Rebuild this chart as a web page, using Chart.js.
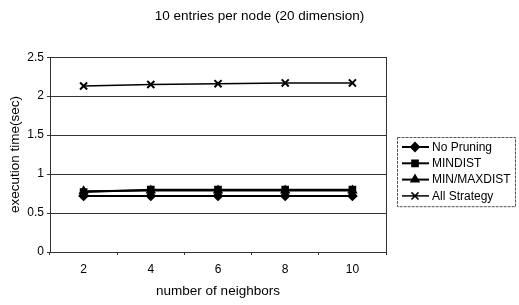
<!DOCTYPE html>
<html>
<head>
<meta charset="utf-8">
<script src="https://cdn.jsdelivr.net/npm/chart.js@4"></script>
<style>
    html, body { margin: 0; padding: 0; background: #fff; }
    #wrap { width: 519px; height: 305px; position: relative; }
</style>
</head>
<body>
<div id="wrap"><canvas id="chart"></canvas></div>
<script>
// Chart data
const chartTitle = '10 entries per node (20 dimension)';
const xTitle = 'number of neighbors';
const yTitle = 'execution time(sec)';
const neighbors = ['2', '4', '6', '8', '10'];
const noPruning = [0.72, 0.72, 0.72, 0.72, 0.72];
const minDist = [0.77, 0.80, 0.80, 0.80, 0.80];
const minMaxDist = [0.78, 0.79, 0.79, 0.79, 0.79];
const allStrategy = [2.13, 2.15, 2.16, 2.17, 2.17];
const yTicks = [0, 0.5, 1, 1.5, 2, 2.5];

const FONT = 'Arial, "Liberation Sans", sans-serif';

// Reserve room on the right for the legend, so the title stays centred on the page
const rightSpace = {
    id: 'rightSpace',
    beforeInit(chart) {
        Chart.layouts.addBox(chart, {
            position: 'right',
            weight: 100,
            fullSize: false,
            options: {},
            isHorizontal() { return false; },
            update(maxW, maxH) { this.width = 133; this.height = maxH; },
            draw() {}
        });
    }
};

// Draws the legend box on the right (line with marker through it)
const boxLegend = {
    id: 'boxLegend',
    afterDraw(chart) {
        const ctx = chart.ctx;
        const left = 397, top = 137, w = 118, rowH = 16.3;
        const sets = chart.data.datasets;
        const h = sets.length * rowH + 4;
        ctx.save();
        ctx.strokeStyle = '#555';
        ctx.lineWidth = 1;
        ctx.setLineDash([3, 1]);
        ctx.strokeRect(left + 0.5, top + 0.5, w, h);
        ctx.setLineDash([]);
        ctx.font = '12px ' + FONT;
        ctx.textBaseline = 'middle';
        sets.forEach((ds, i) => {
            const y = top + 10 + i * rowH;
            ctx.strokeStyle = '#000';
            ctx.lineWidth = ds.borderWidth;
            ctx.beginPath();
            ctx.moveTo(left + 5, y);
            ctx.lineTo(left + 32, y);
            ctx.stroke();
            Chart.helpers.drawPoint(ctx, {
                pointStyle: ds.pointStyle,
                radius: ds.pointRadius,
                borderWidth: 2
            }, left + 18, y);
            ctx.fillStyle = '#000';
            ctx.fillText(ds.label, left + 35, y + 0.5);
        });
        ctx.restore();
    }
};

// Frame around plot area (top and right borders)
const frame = {
    id: 'frame',
    afterDatasetsDraw(chart) {
        const a = chart.chartArea;
        const ctx = chart.ctx;
        ctx.save();
        ctx.strokeStyle = '#333';
        ctx.lineWidth = 1;
        ctx.strokeRect(Math.round(a.left) + 0.5, Math.round(a.top) + 0.5,
            Math.round(a.right - a.left), Math.round(a.bottom - a.top));
        ctx.restore();
    }
};

function series(label, data, style, radius, width) {
    return {
        label: label,
        data: data,
        borderColor: '#000',
        backgroundColor: '#000',
        borderWidth: width,
        pointStyle: style,
        pointRadius: radius,
        pointBorderWidth: 2,
        pointBorderColor: '#000',
        pointBackgroundColor: '#000',
        tension: 0,
        fill: false
    };
}

new Chart(document.getElementById('chart'), {
    type: 'line',
    data: {
        labels: neighbors,
        datasets: [
            series('No Pruning', noPruning, 'rectRot', 4, 2),
            series('MINDIST', minDist, 'rect', 4, 2),
            series('MIN/MAXDIST', minMaxDist, 'triangle', 4, 2),
            series('All Strategy', allStrategy, 'crossRot', 5, 1.5)
        ]
    },
    options: {
        responsive: true,
        maintainAspectRatio: false,
        animation: false,
        devicePixelRatio: 1,
        layout: { padding: 0 },
        plugins: {
            legend: { display: false },
            tooltip: { enabled: false },
            title: {
                display: true,
                text: chartTitle,
                color: '#000',
                font: { family: FONT, size: 13.5, weight: 'normal' },
                padding: { top: 8, bottom: 33 }
            }
        },
        scales: {
            x: {
                type: 'category',
                offset: true,
                grid: {
                    display: true,
                    offset: true,
                    drawOnChartArea: false,
                    drawTicks: true,
                    tickLength: 3,
                    color: '#333'
                },
                border: { display: true, color: '#333', width: 1 },
                ticks: {
                    color: '#000',
                    font: { family: FONT, size: 12 },
                    padding: 7
                },
                title: {
                    display: true,
                    text: xTitle,
                    color: '#000',
                    font: { family: FONT, size: 13.5 },
                    padding: { top: 4, bottom: 6 }
                },
                afterFit(scale) { scale.height = 53; }
            },
            y: {
                min: 0,
                max: 2.5,
                afterBuildTicks(scale) {
                    scale.ticks = yTicks.map(v => ({ value: v }));
                },
                grid: {
                    color: '#333',
                    lineWidth: 1,
                    drawTicks: true,
                    tickLength: 3
                },
                border: { display: true, color: '#333', width: 1 },
                ticks: {
                    color: '#000',
                    font: { family: FONT, size: 12 },
                    padding: 3,
                    callback: v => String(v)
                },
                title: {
                    display: true,
                    text: yTitle,
                    color: '#000',
                    font: { family: FONT, size: 13.5 },
                    padding: { top: 7, bottom: 2 }
                },
                afterFit(scale) { scale.width = 50; }
            }
        }
    },
    plugins: [rightSpace, frame, boxLegend]
});
</script>
</body>
</html>
